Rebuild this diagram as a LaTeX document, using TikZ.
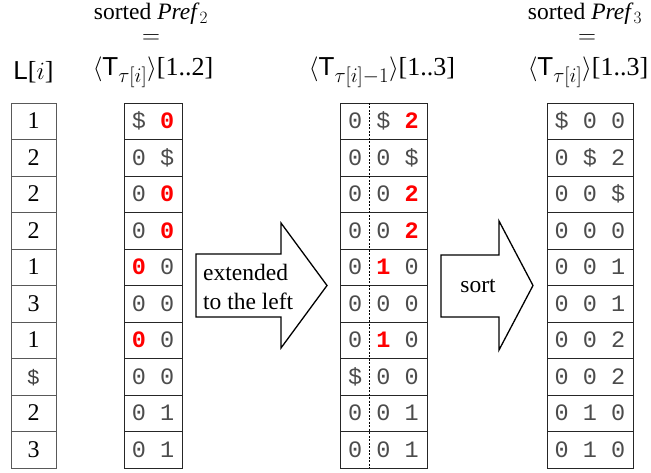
\documentclass[tikz,border=0pt]{standalone}
\usepackage{fontspec}
\setmainfont{Liberation Serif}
\setmonofont{Liberation Mono}
\setsansfont{Liberation Sans}
\newcommand{\rd}[1]{\textcolor{red}{\bfseries #1}}
\newcommand{\dl}{\textdollar}
\newcommand{\sbx}[1]{\mbox{\fontsize{20}{20}\selectfont$#1$}}
\newcommand{\hdr}[2]{$\langle\mathsf{T}_{\sbx{#1}}\rangle$[1..#2]}
\begin{document}
\begin{tikzpicture}[x=1pt,y=-1pt,
  cell/.style={draw=black!85, line width=0.9pt, minimum height=36.5pt, inner sep=0pt},
  lcell/.style={cell, draw=black!65, minimum width=45pt, font=\fontsize{24}{24}\selectfont, text height=15pt, text depth=0pt},
  mcell/.style={cell, font=\ttfamily\fontsize{23.5}{23.5}\selectfont, text height=15pt, text depth=0pt, text=black!70},
  head/.style={font=\fontsize{23.5}{27}\selectfont, inner sep=0pt},
  mhead/.style={font=\fontsize{26}{30}\selectfont, inner sep=0pt},
  arrowshape/.style={draw=black, line width=1.3pt, fill=white, line join=miter},
  lbl/.style={font=\fontsize{23.5}{28}\selectfont, inner sep=0pt}
]
\useasboundingbox (0,0) rectangle (651,473);

% column L[i]
\foreach \t [count=\i] in {1,2,2,2,1,3,1,{\ttfamily\fontsize{21}{21}\selectfont\color{black!75}\dl},2,3}
  \node[lcell] (a\i) at (33.5,{103+36.5*(\i-0.5)}) {\t};

% sorted Pref_2
\foreach \t [count=\i] in {{\dl{} \rd{0}},{0 \dl},{0 \rd{0}},{0 \rd{0}},{\rd{0} 0},{0 0},{\rd{0} 0},{0 0},{0 1},{0 1}}
  \node[mcell, minimum width=58pt] (b\i) at (153,{103+36.5*(\i-0.5)}) {\t};

% extended
\foreach \t [count=\i] in {{0 \dl{} \rd{2}},{0 0 \dl},{0 0 \rd{2}},{0 0 \rd{2}},{0 \rd{1} 0},{0 0 0},{0 \rd{1} 0},{\dl{} 0 0},{0 0 1},{0 0 1}}
  \node[mcell, minimum width=87pt] (c\i) at (383.5,{103+36.5*(\i-0.5)}) {\t};

% sorted Pref_3
\foreach \t [count=\i] in {{\dl{} 0 0},{0 \dl{} 2},{0 0 \dl},{0 0 0},{0 0 1},{0 0 1},{0 0 2},{0 0 2},{0 1 0},{0 1 0}}
  \node[mcell, minimum width=86pt] (d\i) at (590,{103+36.5*(\i-0.5)}) {\t};

\coordinate (dtop) at (369.5,103);
\coordinate (dbot) at (369.5,468);
\draw[dash pattern=on 2pt off 1.5pt, line width=0.7pt] (dtop) -- (dbot);

% headers
\node[mhead] (hL) at (33.5,72) {$\mathsf{L}$[$i$]};
\node[head] (h2a) at (151,14) {sorted \textit{Pref}$_2$};
\node[head] (h2b) at (151,39) {$=$};
\node[mhead] (h2c) at (153,72) {\hdr{\tau[i]}{2}};
\node[mhead] (h3) at (382,72) {\hdr{\tau[i]{-}1}{3}};
\node[head] (h4a) at (585,14) {sorted \textit{Pref}$_3$};
\node[head] (h4b) at (587,39) {$=$};
\node[mhead] (h4c) at (588,72) {\hdr{\tau[i]}{3}};

% arrows
\draw[arrowshape] (196,254) -- (281,254) -- (281,223) -- (327,285.5) -- (281,348) -- (281,317) -- (196,317) -- cycle;
\node[lbl, anchor=base west] (t1) at (203,281) {extended};
\node[lbl, anchor=base west] (t2) at (203,309) {to the left};

\draw[arrowshape] (441,255) -- (499,255) -- (499,221) -- (533,285.5) -- (499,350) -- (499,317) -- (441,317) -- cycle;
\node[lbl, anchor=base] (t3) at (478,293) {sort};
\end{tikzpicture}
\end{document}
